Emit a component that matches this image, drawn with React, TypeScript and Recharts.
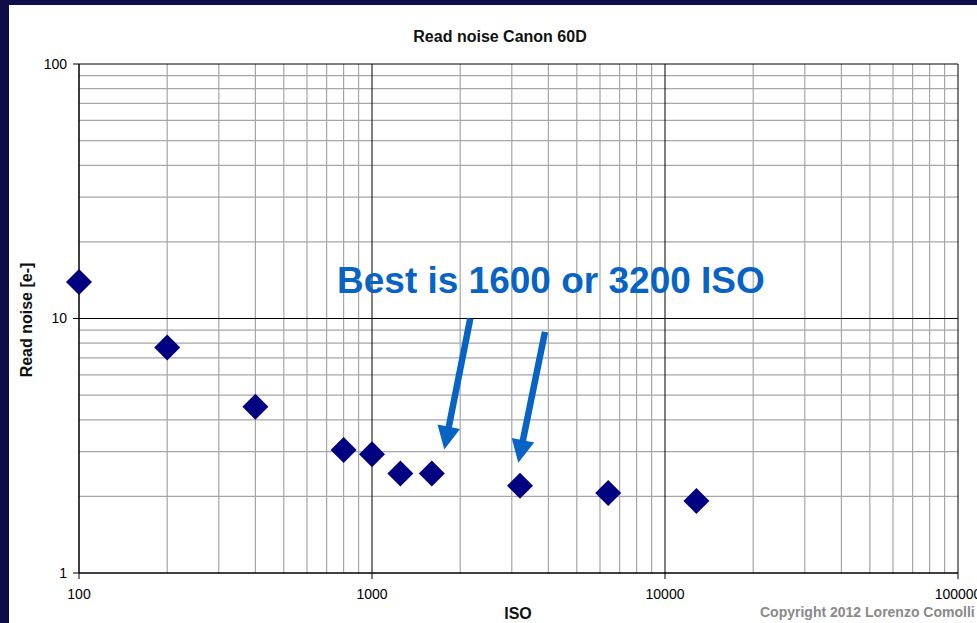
import { ScatterChart, Scatter, XAxis, YAxis, ReferenceLine } from 'recharts'

const isoValues = [100, 200, 400, 800, 1000, 1250, 1600, 3200, 6400, 12800]
const readNoise = [13.9, 7.7, 4.5, 3.04, 2.93, 2.46, 2.46, 2.2, 2.06, 1.92]

const xTicks = [100, 1000, 10000, 100000]
const yTicks = [1, 10, 100]
const xMinor = [200, 300, 400, 500, 600, 700, 800, 900, 2000, 3000, 4000, 5000, 6000, 7000, 8000, 9000, 20000, 30000, 40000, 50000, 60000, 70000, 80000, 90000]
const yMinor = [2, 3, 4, 5, 6, 7, 8, 9, 20, 30, 40, 50, 60, 70, 80, 90]

// arrows pointing at ISO 1600 and ISO 3200 (start / tip in data units)
const arrowStarts = [{ x: 2165, y: 10 }, { x: 3894, y: 8.86 }]
const arrowTips = [{ x: 1765, y: 3.06 }, { x: 3158, y: 2.71 }]

const FONT = '"Liberation Sans", Arial, sans-serif'
const NAVY = '#0f0c4a'
const BLUE = '#0764c4'

const points = isoValues.map((iso, i) => ({ iso, noise: readNoise[i] }))

function Diamond(props: any) {
  const { cx, cy } = props
  const h = 13
  return (
    <polygon
      points={`${cx},${cy - h} ${cx + h},${cy} ${cx},${cy + h} ${cx - h},${cy}`}
      fill="#000080"
    />
  )
}

function Arrow(props: any) {
  const { x1, y1, x2, y2 } = props
  const dx = x2 - x1
  const dy = y2 - y1
  const len = Math.sqrt(dx * dx + dy * dy)
  const ux = dx / len
  const uy = dy / len
  const head = 23
  const half = 11.5
  const bx = x2 - ux * head
  const by = y2 - uy * head
  return (
    <g>
      <line x1={x1} y1={y1} x2={bx + ux * 2} y2={by + uy * 2} stroke={BLUE} strokeWidth={6.5} />
      <polygon
        points={`${x2},${y2} ${bx - uy * half},${by + ux * half} ${bx + uy * half},${by - ux * half}`}
        fill={BLUE}
      />
    </g>
  )
}

export default function App() {
  return (
    <div style={{ position: 'fixed', left: 0, top: 0, width: 977, height: 623, background: NAVY, overflow: 'hidden' }}>
      <div style={{ position: 'absolute', left: 9, top: 5, width: 980, height: 630, background: '#fff' }} />
      <div style={{ position: 'absolute', left: 9, top: 5 }}>
        <ScatterChart width={1000} height={618} margin={{ top: 59, right: 51, bottom: 6, left: 10 }}>
          {xMinor.map((v) => (
            <ReferenceLine key={'xm' + v} x={v} stroke="#a6a6a6" strokeWidth={1.2} />
          ))}
          {yMinor.map((v) => (
            <ReferenceLine key={'ym' + v} y={v} stroke="#a6a6a6" strokeWidth={1.2} />
          ))}
          {xTicks.map((v) => (
            <ReferenceLine key={'xM' + v} x={v} stroke="#000" strokeWidth={1} />
          ))}
          {yTicks.map((v) => (
            <ReferenceLine key={'yM' + v} y={v} stroke="#000" strokeWidth={1} />
          ))}
          <XAxis
            dataKey="iso"
            type="number"
            scale="log"
            domain={[100, 100000]}
            ticks={xTicks}
            height={44}
            axisLine={{ stroke: '#000' }}
            tickLine={{ stroke: '#000' }}
            tickSize={6}
            tickMargin={10}
            interval={0}
            tick={{ fill: '#000', fontSize: 14, fontFamily: FONT }}
          />
          <YAxis
            dataKey="noise"
            type="number"
            scale="log"
            domain={[1, 100]}
            ticks={yTicks}
            width={60}
            axisLine={{ stroke: '#000' }}
            tickLine={{ stroke: '#000' }}
            tickSize={6}
            tickMargin={6}
            interval={0}
            tick={{ fill: '#000', fontSize: 14, fontFamily: FONT }}
          />
          <Scatter data={points} shape={Diamond} isAnimationActive={false} />
          {arrowStarts.map((s, i) => (
            <ReferenceLine key={'arrow' + i} segment={[s, arrowTips[i]]} shape={Arrow} ifOverflow="visible" />
          ))}
        </ScatterChart>
      </div>
      <svg width={977} height={623} style={{ position: 'absolute', left: 0, top: 0, pointerEvents: 'none' }}>
        <text x={500} y={42} textAnchor="middle" fontFamily={FONT} fontWeight="bold" fontSize={16} fill="#111">
          Read noise Canon 60D
        </text>
        <text x={337} y={293} fontFamily={FONT} fontWeight="bold" fontSize={37} fill={BLUE}>
          Best is 1600 or 3200 ISO
        </text>
        <text transform="translate(32,320) rotate(-90)" textAnchor="middle" fontFamily={FONT} fontWeight="bold" fontSize={16} fill="#111">
          Read noise [e-]
        </text>
        <text x={518} y={619} textAnchor="middle" fontFamily={FONT} fontWeight="bold" fontSize={16} fill="#111">
          ISO
        </text>
        <text x={760} y={617} fontFamily={FONT} fontWeight="bold" fontSize={14} fill="#8a8a8a">
          Copyright 2012 Lorenzo Comolli
        </text>
      </svg>
    </div>
  )
}
